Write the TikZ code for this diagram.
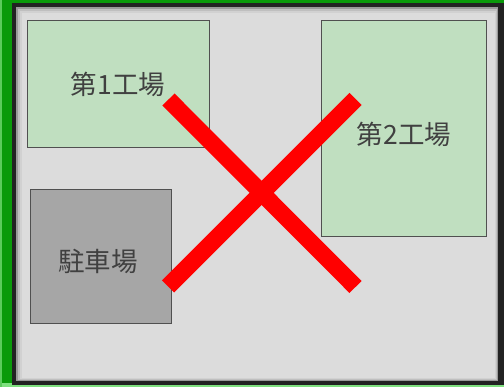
\documentclass[tikz,border=0pt]{standalone}
\usepackage{fontspec}
\newfontfamily\jp{Noto Sans CJK JP}
\definecolor{bggreen}{HTML}{0A9A0A}
\definecolor{litegreen}{HTML}{7FE07F}
\definecolor{framedark}{HTML}{222222}
\definecolor{innergray}{HTML}{DCDCDC}
\definecolor{factory}{HTML}{C0DFC0}
\definecolor{parking}{HTML}{A6A6A6}
\definecolor{edgegray}{HTML}{505050}
\definecolor{txt}{HTML}{404040}
\tikzset{
  area/.style={draw=edgegray, line width=1pt},
  lbl/.style={font=\jp\fontsize{26.5}{30}\selectfont, text=txt, inner sep=0pt},
  cross/.style={draw=red, line width=17pt, line cap=butt},
}
\begin{document}
\begin{tikzpicture}[x=1pt,y=-1pt]
\useasboundingbox (0,0) rectangle (504,387);
% background and frame
\fill[bggreen] (0,0) rectangle (504,387);
\fill[litegreen] (0,383) rectangle (504,387);
\fill[litegreen!70!bggreen] (0,0) rectangle (2,387);
\fill[framedark] (12,3) rectangle (504,385);
\fill[black!40] (16,7) rectangle (498,381);
\fill[black!25] (18,9) rectangle (497,380);
\fill[black!18] (20,11) rectangle (496,379);
\fill[innergray] (22,13) rectangle (495,378);
% areas
\node[area, fill=factory, minimum width=182pt, minimum height=127pt, anchor=north west] (f1) at (27,20) {};
\node[area, fill=factory, minimum width=165pt, minimum height=216pt, anchor=north west] (f2) at (321,20) {};
\node[area, fill=parking, minimum width=141pt, minimum height=134pt, anchor=north west] (pk) at (30,189) {};
\node[lbl] (t1) at (118,84) {第1工場};
\node[lbl] (t2) at (404,134) {第2工場};
\node[lbl] (t3) at (98,261) {駐車場};
% red cross
\coordinate (a1) at (168.5,99.5);
\coordinate (a2) at (355.5,287);
\coordinate (b1) at (355.5,99);
\coordinate (b2) at (168,286.5);
\draw[cross] (a1) -- (a2);
\draw[cross] (b1) -- (b2);
\end{tikzpicture}
\end{document}
